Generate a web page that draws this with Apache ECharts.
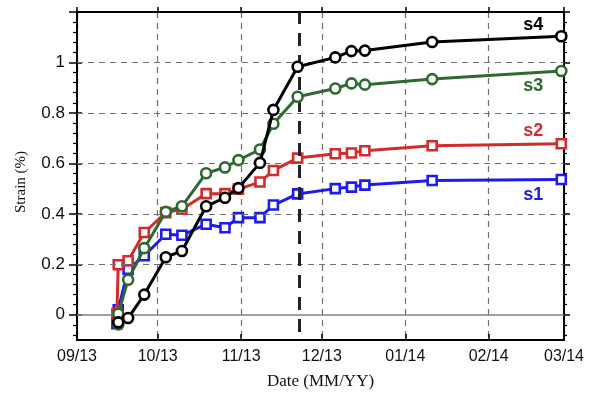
<!DOCTYPE html>
<html>
<head>
<meta charset="utf-8">
<script src="https://cdn.jsdelivr.net/npm/echarts@6/dist/echarts.min.js"></script>
<style>
html,body{margin:0;padding:0;background:#fff;}
#chart{width:599px;height:395px;}
</style>
</head>
<body>
<div id="chart"></div>
<script>
// ---- data ----
const dates = ['2013-09-16 08:00:00','2013-09-20','2013-09-26','2013-10-04','2013-10-10','2013-10-19','2013-10-26','2013-10-31','2013-11-08','2013-11-13','2013-11-22','2013-12-06','2013-12-12','2013-12-17','2014-01-11','2014-02-28'];
const s1Dates = ['2013-09-15 20:00:00'].concat(dates);
const s2Dates = ['2013-09-15 20:00:00'].concat(dates);
const s3Dates = ['2013-09-16 08:00:00'].concat(dates);
const s4Dates = dates;
const s1 = [-0.035, 0.02, 0.18, 0.234, 0.319, 0.315, 0.359, 0.345, 0.385, 0.385, 0.435, 0.479, 0.500, 0.506, 0.514, 0.532, 0.536];
const s2 = [0.005, 0.198, 0.214, 0.326, 0.405, 0.418, 0.480, 0.480, 0.498, 0.526, 0.572, 0.621, 0.638, 0.641, 0.650, 0.670, 0.678];
const s3 = [-0.038, 0.004, 0.139, 0.264, 0.408, 0.430, 0.561, 0.584, 0.613, 0.655, 0.757, 0.864, 0.897, 0.917, 0.912, 0.934, 0.966];
const s4 = [-0.030, -0.013, 0.080, 0.228, 0.253, 0.430, 0.464, 0.502, 0.602, 0.812, 0.983, 1.020, 1.045, 1.047, 1.081, 1.104];
const yLabels = [0, 0.2, 0.4, 0.6, 0.8, 1.0];
const yMajorTicks = [0, 0.2, 0.4, 0.6, 0.8, 1.0, 1.2];
const yGrid = [0.2, 0.4, 0.6, 0.8, 1.0];
const eventDate = '2013-11-22 15:00:00';
const xMin = '2013-09-01', xMax = '2014-03-01';
const yMin = -0.1, yMax = 1.2;

const yMinorTicks = [];
for (let i = -2; i <= 30; i++) { if (i % 5 !== 0) yMinorTicks.push(Math.round(i * 4) / 100); }

const colors = {s1:'#1c1cf0', s2:'#d42a2a', s3:'#2e6a30', s4:'#000000'};

function pairs(ds, vs, name, off) {
  return vs.map((v, i) => {
    const item = {value: [ds[i], v]};
    if (i === vs.length - 1) {
      item.label = {show: true, position: 'inside', formatter: name, offset: off,
        color: colors[name], fontSize: 18, fontWeight: 'bold', fontFamily: 'Liberation Sans, Arial, sans-serif'};
    }
    return item;
  });
}

function mkSeries(name, ds, vs, symbol, size, off, z) {
  return {
    name: name, type: 'line', z: z,
    data: pairs(ds, vs, name, off),
    symbol: symbol, symbolSize: size, showAllSymbol: true,
    lineStyle: {color: colors[name], width: 3},
    itemStyle: {color: '#fff', borderColor: colors[name], borderWidth: 2.6},
    emphasis: {disabled: true},
    label: {show: false}
  };
}

const blankAxis = {axisLine:{show:false, onZero:false}, axisLabel:{show:false}, splitLine:{show:false}};
const tickStyle = {color:'#000', width:1.5};

const option = {
  animation: false,
  backgroundColor: '#fff',
  grid: {left: 77, right: 35, top: 12, bottom: 53},
  xAxis: [
    {type:'time', min:xMin, max:xMax, position:'bottom',
     axisLine:{show:true, onZero:false, lineStyle:{color:'#000', width:2}},
     axisTick:{show:true, inside:true, length:6, lineStyle:tickStyle},
     axisLabel:{formatter:'{MM}/{yy}', fontSize:16, color:'#111', margin:9, fontFamily:'Liberation Sans, Arial, sans-serif'},
     splitLine:{show:true, lineStyle:{color:'#707070', width:1.2, type:[6,5]}},
     name:'Date (MM/YY)', nameLocation:'middle', nameGap:33,
     nameTextStyle:{fontSize:17, color:'#111', fontFamily:'Liberation Serif, Times New Roman, serif'}},
    {type:'time', min:xMin, max:xMax, position:'top',
     axisLine:{show:true, onZero:false, lineStyle:{color:'#000', width:2}},
     axisTick:{show:true, inside:false, length:5, lineStyle:tickStyle},
     axisLabel:{show:false}, splitLine:{show:false}}
  ],
  yAxis: [
    {type:'value', min:yMin, max:yMax, position:'left',
     axisLine:{show:true, onZero:false, lineStyle:{color:'#000', width:2}},
     axisTick:{show:true, inside:false, length:8, customValues:yMajorTicks, lineStyle:tickStyle},
     axisLabel:{customValues:yLabels, formatter: v => String(Math.round(v*10)/10), fontSize:17, color:'#111', margin:12, fontFamily:'Liberation Sans, Arial, sans-serif'},
     splitLine:{show:false},
     name:'Strain (%)', nameLocation:'middle', nameGap:48,
     nameTextStyle:{fontSize:15, color:'#111', fontFamily:'Liberation Serif, Times New Roman, serif', padding:[0,12,0,0]}},
    Object.assign({type:'value', min:yMin, max:yMax, position:'left',
     axisTick:{show:true, inside:true, length:5, customValues:yMajorTicks, lineStyle:tickStyle}}, blankAxis),
    Object.assign({type:'value', min:yMin, max:yMax, position:'left',
     axisTick:{show:true, inside:false, length:4, customValues:yMinorTicks, lineStyle:{color:'#000', width:1.2}}}, blankAxis),
    {type:'value', min:yMin, max:yMax, position:'right',
     axisLine:{show:true, onZero:false, lineStyle:{color:'#000', width:2}},
     axisTick:{show:true, inside:false, length:6, customValues:yMajorTicks, lineStyle:tickStyle},
     axisLabel:{show:false}, splitLine:{show:false}},
    Object.assign({type:'value', min:yMin, max:yMax, position:'right',
     axisTick:{show:true, inside:false, length:3, customValues:yMinorTicks, lineStyle:{color:'#000', width:1.2}}}, blankAxis)
  ],
  series: [
    {name:'grid', type:'line', data:[], z:1, silent:true,
     markLine:{silent:true, symbol:'none', label:{show:false}, animation:false,
       data: yGrid.map(v => ({yAxis:v, lineStyle:{color:'#707070', width:1.2, type:[6,5]}}))
         .concat([{yAxis:0, lineStyle:{color:'#808080', width:1.6, type:'solid'}}])}},
    {name:'event', type:'line', data:[], z:1, silent:true,
     markLine:{silent:true, symbol:'none', label:{show:false}, animation:false,
       data:[{xAxis:eventDate, lineStyle:{color:'#222', width:3, type:[13,9], dashOffset:-8}}]}},
    mkSeries('s1', s1Dates, s1, 'rect', 9, [-28, 15], 3),
    mkSeries('s2', s2Dates, s2, 'rect', 9, [-28, -12.5], 4),
    mkSeries('s3', s3Dates, s3, 'circle', 10, [-28, 15], 5),
    mkSeries('s4', s4Dates, s4, 'circle', 10, [-28, -11], 6)
  ]
};

const chart = echarts.init(document.getElementById('chart'), null, {renderer:'canvas'});
chart.setOption(option);
</script>
</body>
</html>
